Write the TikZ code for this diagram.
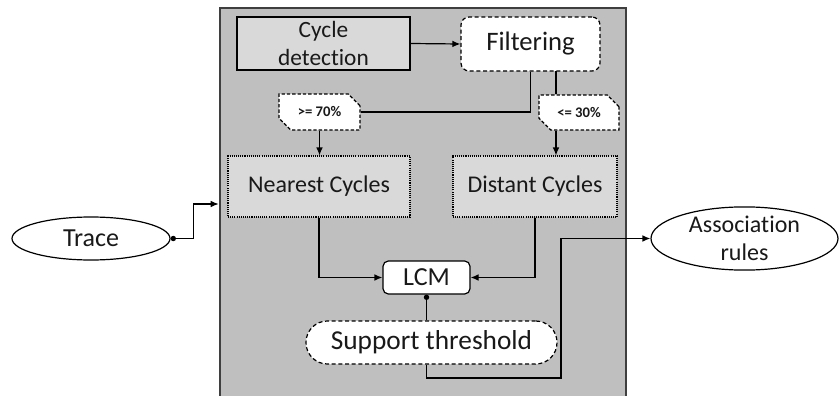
\documentclass[tikz,border=0pt]{standalone}
\usepackage{fontspec}
\setmainfont{Carlito}[Ligatures=NoCommon]
\usetikzlibrary{shapes.geometric,shapes.misc,arrows.meta}
\definecolor{panelgray}{HTML}{BFBFBF}
\definecolor{boxgray}{HTML}{D9D9D9}
\definecolor{edgegray}{HTML}{3F3F3F}
\tikzset{
  base/.style={draw=black, line width=0.9pt, text=black!90, align=center, inner sep=0pt},
  plainbox/.style={base, rectangle, fill=boxgray},
  dashbox/.style={base, rectangle, fill=white, dash pattern=on 3pt off 2pt, rounded corners=6pt},
  dotbox/.style={base, rectangle, fill=boxgray, line width=0.8pt, dash pattern=on 0.8pt off 0.8pt},
  cutbox/.style={base, chamfered rectangle, chamfered rectangle corners={north east,south west},
    chamfered rectangle xsep=5pt, chamfered rectangle ysep=5pt, fill=white,
    dash pattern=on 2.5pt off 1.5pt, font=\fontsize{11}{13}\selectfont\bfseries},
  oval/.style={base, ellipse, fill=white},
  link/.style={line width=0.9pt, -{Latex[length=6pt,width=5pt]}},
  tail/.style={line width=0.9pt, {Circle[length=4pt]}-},
}
\begin{document}
\begin{tikzpicture}[x=0.75pt,y=-0.75pt]
  \useasboundingbox (0,0) rectangle (840,396);

  % the grey frame
  \node[fill=panelgray, draw=edgegray, line width=2pt, minimum width=304.5pt, minimum height=294pt] (core) at (423,204) {};

  \node[plainbox, minimum width=129.75pt, minimum height=39.75pt, font=\fontsize{17.5}{21}\selectfont] (cyc) at (323.5,43.5) {Cycle\\detection};
  \node[dashbox, minimum width=104.25pt, minimum height=40.5pt, font=\fontsize{20}{24}\selectfont] (filt) at (530.5,44) {Filtering};

  \node[cutbox, minimum width=60.75pt, minimum height=27pt] (hi) at (319.5,112) {>= 70\%};
  \node[cutbox, minimum width=60pt, minimum height=26.25pt] (lo) at (579,112.5) {<= 30\%};

  \node[dotbox, minimum width=136.5pt, minimum height=45.75pt, font=\fontsize{18}{22}\selectfont] (near) at (319,186.5) {Nearest Cycles};
  \node[dotbox, minimum width=123pt, minimum height=45.75pt, font=\fontsize{18}{22}\selectfont] (far) at (535,186.5) {Distant Cycles};

  \node[base, fill=white, rounded corners=4pt, minimum width=65.25pt, minimum height=24.75pt, font=\fontsize{19.5}{23}\selectfont] (lcm) at (426.5,277.5) {LCM};
  \node[base, fill=white, dash pattern=on 3pt off 2pt, rounded corners=16pt, minimum width=188.25pt, minimum height=32.25pt, font=\fontsize{20.5}{24}\selectfont] (supp) at (431.5,342.5) {Support threshold};

  \node[oval, minimum width=118.5pt, minimum height=32.25pt, font=\fontsize{19.5}{23}\selectfont] (trace) at (91,238.5) {Trace};
  \node[oval, minimum width=140.25pt, minimum height=45.75pt, font=\fontsize{18}{21}\selectfont] (assoc) at (744.5,238.5) {Association\\rules};

  \coordinate (lotap) at (556,71);
  \coordinate (bend) at (561,378);

  \draw[link] (cyc.east) -- (filt.west);
  \draw[line width=0.9pt] (filt.south) |- (hi.east);
  \draw[line width=0.9pt] (lotap) -- (lotap |- lo.north);
  \draw[link] (hi.south) -- (hi.south |- near.north);
  \draw[link] (lotap |- lo.south) -- (lotap |- far.north);
  \draw[link] (near.south) |- (lcm.west);
  \draw[link] (far.south) |- (lcm.east);
  \draw[tail] (lcm.south) -- (lcm.south |- supp.north);
  \draw[link] (supp.south -| lcm.south) |- (bend) |- (assoc.west);
  \draw[link, {Circle[length=4pt]}-{Latex[length=6pt,width=5pt]}] (trace.east) -- ++(23,0) |- (core.west);
\end{tikzpicture}
\end{document}
